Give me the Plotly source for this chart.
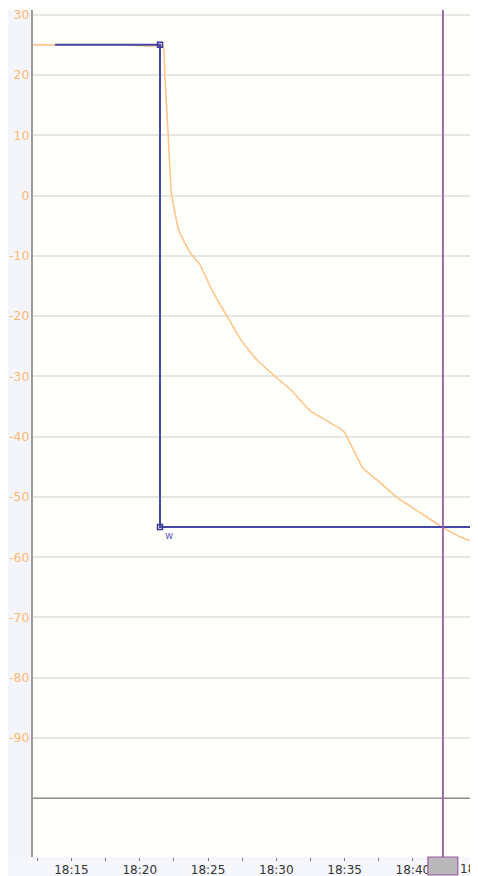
import plotly.graph_objects as go

DAY = "2024-01-01 "

# Orange measured curve
temp_times = ["18:12:11", "18:19:00", "18:21:00", "18:21:42", "18:21:50", "18:22:05", "18:22:20",
              "18:22:52", "18:23:05", "18:23:40", "18:24:25", "18:25:17", "18:26:23",
              "18:27:25", "18:28:35", "18:29:54", "18:31:08", "18:32:28", "18:33:47", "18:34:53",
              "18:35:06", "18:35:32", "18:36:20", "18:37:26", "18:38:50", "18:40:31", "18:42:12",
              "18:43:26", "18:44:50"]
temp_values = [25.0, 25.0, 24.8, 24.8, 20.0, 10.0, 0.1,
               -5.9, -6.9, -9.4, -11.5, -15.7, -20.0,
               -24.0, -27.3, -30.0, -32.4, -35.7, -37.5, -39.0,
               -39.7, -41.7, -45.2, -47.3, -50.1, -52.6, -55.1,
               -56.6, -57.8]

# Blue setpoint step
set_times = ["18:13:48", "18:21:29", "18:21:29", "18:46:00"]
set_values = [25, 25, -55, -55]
marker_times = ["18:21:29", "18:21:29"]
marker_values = [25, -55]

cursor_time = "18:42:12"
box_start, box_end = "18:41:06", "18:43:17"

y_ticks = [30, 20, 10, 0, -10, -20, -30, -40, -50, -60, -70, -80, -90]
x_ticks = ["18:15", "18:20", "18:25", "18:30", "18:35", "18:40"]
x_minor = ["18:12:30", "18:17:30", "18:22:30", "18:27:30", "18:32:30", "18:37:30", "18:42:30"]
edge_label = "18:45"

fig = go.Figure()
fig.add_trace(go.Scatter(x=[DAY + t for t in temp_times], y=temp_values, mode="lines",
                         line=dict(color="#ffc58a", width=1.6, shape="spline", smoothing=0.4),
                         hoverinfo="skip"))
fig.add_trace(go.Scatter(x=[DAY + t for t in set_times], y=set_values, mode="lines",
                         line=dict(color="#4646a6", width=2), hoverinfo="skip"))
fig.add_trace(go.Scatter(x=[DAY + t for t in marker_times], y=marker_values, mode="markers",
                         marker=dict(symbol="square-open", size=5, color="#3a3a9a",
                                     line=dict(width=1.5, color="#3a3a9a")), hoverinfo="skip"))

PW, PH = 445, 847
shapes = [
    # left band
    dict(type="rect", xref="paper", yref="paper", x0=-26 / PW, x1=0, y0=-19 / PH, y1=1.0,
         fillcolor="#f3f5fb", line=dict(width=0), layer="below"),
    # bottom band
    dict(type="rect", xref="paper", yref="paper", x0=-26 / PW, x1=1.0, y0=-19 / PH, y1=0,
         fillcolor="#f5f7fc", line=dict(width=0), layer="below"),
    # -100 line
    dict(type="line", xref="paper", yref="y", x0=0, x1=1, y0=-100, y1=-100,
         line=dict(color="#8c8c8c", width=1.5)),
    # cursor line
    dict(type="line", xref="x", yref="paper", x0=DAY + cursor_time, x1=DAY + cursor_time,
         y0=0, y1=1, line=dict(color="#9a5ca6", width=1.8)),
    # gray box at bottom
    dict(type="rect", xref="x", yref="paper", x0=DAY + box_start, x1=DAY + box_end,
         y0=-18 / PH, y1=0, fillcolor="#b9b9b9", line=dict(color="#9a5ca6", width=1.2)),
]

fig.update_layout(
    width=470, height=868,
    margin=dict(l=25, r=0, t=2, b=19, autoexpand=False),
    paper_bgcolor="#ffffff", plot_bgcolor="#fffffb",
    showlegend=False,
    shapes=shapes,
    font=dict(family="DejaVu Sans"),
    annotations=[
        dict(x=DAY + "18:21:29", y=-55, xref="x", yref="y", text="w", showarrow=False,
             xanchor="left", yanchor="top", xshift=3, yshift=-1,
             font=dict(size=10, color="#6a5ec8", family="DejaVu Sans")),
        # partially visible next tick label at the right edge
        dict(x=1.0, y=0, xref="paper", yref="paper", text=edge_label, showarrow=False,
             xanchor="left", yanchor="top", xshift=-20, yshift=-3,
             font=dict(size=12, color="#333333", family="DejaVu Sans")),
    ],
)

fig.update_xaxes(
    type="date", automargin=False,
    range=[DAY + "18:12:11", DAY + "18:44:46"],
    tickvals=[DAY + t for t in x_ticks],
    ticktext=x_ticks,
    ticks="outside", ticklen=3, tickcolor="#777777", tickwidth=1,
    minor=dict(tickvals=[DAY + t for t in x_minor],
               ticks="outside", ticklen=3, tickcolor="#777777"),
    showgrid=False, zeroline=False, showline=False,
    ticklabelstandoff=-1,
    tickfont=dict(size=12, color="#333333", family="DejaVu Sans"),
    fixedrange=True,
)

fig.update_yaxes(
    automargin=False,
    range=[-109.75, 30.78],
    tickvals=y_ticks,
    ticktext=[str(v) for v in y_ticks],
    showgrid=True, gridcolor="#e6e6e2", gridwidth=1.5,
    zeroline=False,
    showline=True, linecolor="#9a9a9a", linewidth=2,
    ticks="", ticklabelstandoff=-1, ticklabeloverflow="allow",
    tickfont=dict(size=12.5, color="#ffb870", family="DejaVu Sans"),
    fixedrange=True,
)

fig.write_html("out.html", config=dict(displayModeBar=False))
